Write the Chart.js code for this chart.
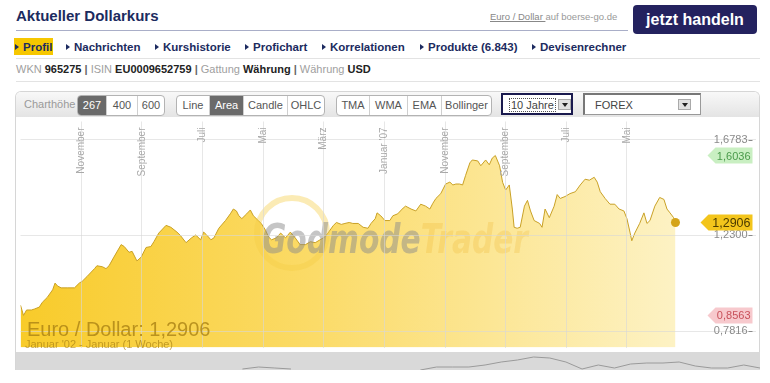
<!DOCTYPE html>
<html lang="de">
<head>
<meta charset="utf-8">
<title>Aktueller Dollarkurs</title>
<script src="https://cdn.jsdelivr.net/npm/chart.js@4.4.1/dist/chart.umd.min.js"></script>
<style>
body { margin:0; width:770px; height:383px; background:#fff; font-family:"Liberation Sans", Arial, sans-serif; position:relative; overflow:hidden; }
.abs { position:absolute; white-space:nowrap; }
#titel { left:16px; top:7px; font-size:15px; font-weight:bold; color:#1c2b60; }
#titelLinie { left:16px; top:30px; width:612px; height:1px; background:#a9aec8; }
#quelle { left:490px; top:11px; font-size:9.5px; color:#999; }
#quelle u { color:#888; }
#handeln { left:633px; top:5px; width:124px; height:29px; background:#24225f; border-radius:4px; color:#fff; font-size:16px; font-weight:bold; text-align:center; line-height:29px; }
#profilBox { left:14px; top:38px; width:39px; height:17px; background:#f6c700; }
.nav { top:39px; font-size:11.5px; font-weight:bold; color:#1c2b60; line-height:16px; }
.pfeil { display:inline-block; width:0; height:0; border-left:4px solid #1c2b60; border-top:3px solid transparent; border-bottom:3px solid transparent; margin-right:4px; vertical-align:1px; }
.linie { height:1px; background:#e3e3e3; left:16px; width:744px; }
#info { left:16px; top:63px; font-size:11px; color:#a0a0a0; }
#info b { color:#222; }
#box { left:15px; top:91px; width:745px; height:279px; border:1px solid #d6d6d6; border-bottom:none; border-radius:6px 6px 0 0; box-sizing:border-box; }
#leiste { left:16px; top:92px; width:743px; height:25px; background:linear-gradient(#f8f8f8, #e4e4e4); border-radius:5px 5px 0 0; }
#charthoehe { left:24px; top:98px; font-size:11px; color:#9a9a9a; }
.grp { position:absolute; top:95px; height:19px; display:flex; border:1px solid #b3b3b3; border-radius:4px; background:#fff; overflow:hidden; }
.grp span { display:block; text-align:center; line-height:19px; font-size:11px; color:#555; border-left:1px solid #cfcfcf; }
.grp span:first-child { border-left:none; }
.grp span.on { background:#6a6a6a; color:#fff; }
.sel { position:absolute; top:93px; height:22px; box-sizing:border-box; background:#fff; font-size:11px; color:#444; }
.knopf { position:absolute; top:4px; width:13px; height:11px; background:#e2e2e2; border:1px solid #aaa; box-sizing:border-box; }
.knopf::after { content:""; position:absolute; left:3px; top:3px; border-top:4px solid #222; border-left:3px solid transparent; border-right:3px solid transparent; }
#plot { left:16px; top:117px; width:744px; height:235px; }
#navi { left:16px; top:352px; width:744px; height:18px; background:#d9d9d9; }
</style>
</head>
<body>
<div class="abs" id="titel">Aktueller Dollarkurs</div>
<div class="abs" id="titelLinie"></div>
<div class="abs" id="quelle"><u>Euro / Dollar </u>auf boerse-go.de</div>
<div class="abs" id="handeln">jetzt handeln</div>

<div class="abs" id="profilBox"></div>
<div class="abs nav" style="left:15px"><span class="pfeil"></span>Profil</div>
<div class="abs nav" style="left:66px"><span class="pfeil"></span>Nachrichten</div>
<div class="abs nav" style="left:155px"><span class="pfeil"></span>Kurshistorie</div>
<div class="abs nav" style="left:245px"><span class="pfeil"></span>Profichart</div>
<div class="abs nav" style="left:322px"><span class="pfeil"></span>Korrelationen</div>
<div class="abs nav" style="left:420px"><span class="pfeil"></span>Produkte (6.843)</div>
<div class="abs nav" style="left:532px"><span class="pfeil"></span>Devisenrechner</div>
<div class="abs linie" style="top:58px"></div>
<div class="abs" id="info">WKN <b>965275</b> <b style="color:#666">|</b> ISIN <b>EU0009652759</b> <b style="color:#666">|</b> Gattung <b>Währung</b> <b style="color:#666">|</b> Währung <b>USD</b></div>
<div class="abs linie" style="top:81px"></div>

<div class="abs" id="box"></div>
<div class="abs" id="leiste"></div>
<div class="abs" id="charthoehe">Charthöhe</div>
<div class="grp" style="left:77px"><span class="on" style="width:28px">267</span><span style="width:30px">400</span><span style="width:26px">600</span></div>
<div class="grp" style="left:176px"><span style="width:32px">Line</span><span class="on" style="width:33px">Area</span><span style="width:43px">Candle</span><span style="width:36px">OHLC</span></div>
<div class="grp" style="left:336px"><span style="width:32px">TMA</span><span style="width:37px">WMA</span><span style="width:33px">EMA</span><span style="width:49px">Bollinger</span></div>
<div class="sel" style="left:501px; width:72px; border:2px solid #1a1a4e;">
  <span style="position:absolute; left:6px; top:3px; border:1px dotted #555; line-height:12px; padding:0 1px;">10 Jahre</span>
  <span class="knopf" style="left:55px"></span>
</div>
<div class="sel" style="left:583px; width:118px; border:1px solid #999; border-top:2px solid #777; border-left:2px solid #777;">
  <span style="position:absolute; left:10px; top:3px; line-height:14px;">FOREX</span>
  <span class="knopf" style="left:93px"></span>
</div>

<div class="abs" id="plot"><canvas id="kursChart"></canvas></div>
<div class="abs" id="navi"><canvas id="naviChart"></canvas></div>

<script>
// Euro / Dollar, Monate seit Januar 2002 (Wochenchart)
const monate = [
  0, 0.5, 1.0, 1.8, 2.3, 3.1, 3.6, 4.4, 5.3, 5.7, 6.1, 6.7, 7.7, 8.9, 9.7, 10.2, 11.0, 12.2, 12.6, 13.5,
  14.1, 14.6, 15.4, 16.6, 17.1, 17.9, 18.4, 19.2, 19.9, 20.7, 21.5, 22.0, 22.8, 24.0, 24.8, 25.8, 26.3, 27.3, 28.2, 28.9,
  29.7, 30.2, 30.7, 31.4, 31.9, 32.7, 33.8, 34.6, 35.1, 35.6, 36.0, 36.5, 37.3, 37.9, 38.4, 39.2, 39.7, 40.4, 40.9, 41.4,
  42.2, 42.9, 43.7, 44.5, 45.3, 46.1, 47.0, 47.8, 48.6, 49.4, 50.2, 50.7, 51.6, 52.1, 52.9, 53.5, 54.2, 54.8, 55.7, 56.5,
  57.3, 57.8, 58.5, 58.8, 59.4, 60.1, 60.9, 61.4, 62.2, 63.1, 63.5, 64.4, 65.2, 66.0, 66.8, 67.5, 68.0, 68.5, 69.3, 70.1,
  70.8, 71.3, 71.8, 72.4, 72.9, 73.4, 74.1, 74.5, 75.4, 75.9, 76.7, 77.3, 77.8, 78.3, 79.0, 79.5, 80.0, 80.6, 81.1, 81.4,
  81.9, 82.4, 83.1, 83.6, 84.1, 84.7, 85.6, 86.0, 86.5, 87.2, 88.0, 88.5, 89.0, 89.8, 90.6, 91.5, 92.3, 93.1, 93.8, 94.6,
  95.1, 95.6, 96.4, 97.2, 98.0, 98.7, 99.5, 100.0, 100.5, 100.8, 101.3, 102.1, 102.8, 103.3, 103.8, 104.6, 105.4, 106.1, 106.6, 107.1,
  107.7, 108.0
];
const kurs = [
  0.9042, 0.8563, 0.8817, 0.8817, 0.8862, 0.8952, 0.9176, 0.9401, 0.9761, 1.0075, 0.9940, 0.9851, 0.9851, 0.9851, 1.0075, 1.0165, 1.0390, 1.0749, 1.0884, 1.0839,
  1.0749, 1.0884, 1.1289, 1.1873, 1.1783, 1.1513, 1.1558, 1.1109, 1.1289, 1.1738, 1.1783, 1.2008, 1.2412, 1.2772, 1.2682, 1.2457, 1.2322, 1.1963, 1.2188, 1.2322,
  1.2098, 1.2457, 1.2322, 1.2098, 1.2188, 1.2637, 1.2997, 1.3311, 1.3536, 1.3446, 1.3221, 1.3087, 1.3311, 1.3491, 1.3221, 1.2997, 1.2862, 1.2547, 1.2233, 1.2098,
  1.2188, 1.2412, 1.2188, 1.2457, 1.2188, 1.1873, 1.1873, 1.2008, 1.1963, 1.2098, 1.2233, 1.2412, 1.2772, 1.2907, 1.2817, 1.2862, 1.2907, 1.2862, 1.2862, 1.2682,
  1.2637, 1.2862, 1.3087, 1.3356, 1.3221, 1.2997, 1.2997, 1.3221, 1.3311, 1.3581, 1.3671, 1.3536, 1.3446, 1.3761, 1.3671, 1.3536, 1.3806, 1.4030, 1.4255, 1.4704,
  1.4794, 1.4660, 1.4704, 1.4704, 1.4660, 1.5109, 1.5693, 1.5828, 1.5783, 1.5558, 1.5828, 1.5603, 1.5918, 1.6036, 1.5558, 1.4783, 1.4425, 1.4660, 1.3536, 1.2682,
  1.2637, 1.2682, 1.3671, 1.3940, 1.3446, 1.2997, 1.2862, 1.2682, 1.3536, 1.3131, 1.3671, 1.4210, 1.4030, 1.4120, 1.4255, 1.4345, 1.4660, 1.4929, 1.4883, 1.5019,
  1.4794, 1.4345, 1.4030, 1.3761, 1.3761, 1.3536, 1.3446, 1.3087, 1.2457, 1.2053, 1.2412, 1.2862, 1.3356, 1.2862, 1.2997, 1.3671, 1.4075, 1.3985, 1.3536, 1.3356,
  1.3131, 1.2906
];
const xGitterMonate = [10, 20, 30, 40, 50, 60, 70, 80, 90, 100];
const xGitterTexte = ['November', 'September', 'Juli', 'Mai', 'März', "Januar '07", 'November', 'September', 'Juli', 'Mai'];
const yGitterWerte = [0.7816, 1.2300, 1.6783];

const naviWerte = [
  null, null, null, null, null, null, null, null, null, null, null, null, null, null, 1, 3, 2, 1, null, null,
  null, null, null, null, null, 0, 3, 3, 3, 5, 8, 10, 13, 12, 8, 1, 5, 2, 6, 7,
  7, 8, 4, 2, 2, 5, 2
];

const fmt = v => v.toFixed(4).replace('.', ',');
const letzter = kurs[kurs.length - 1];
const hoch = Math.max(...kurs);
const tief = Math.min(...kurs);

function badge(ctx, area, y, text, bg, fg, links, groesse) {
  const r = area.right - 3, h = 16;
  ctx.fillStyle = bg;
  ctx.beginPath();
  ctx.moveTo(links, y);
  ctx.lineTo(links + 8, y - h / 2);
  ctx.lineTo(r, y - h / 2);
  ctx.lineTo(r, y + h / 2);
  ctx.lineTo(links + 8, y + h / 2);
  ctx.closePath();
  ctx.fill();
  ctx.fillStyle = fg;
  ctx.font = groesse + 'px "Liberation Sans", Arial';
  ctx.textAlign = 'right';
  ctx.textBaseline = 'middle';
  ctx.fillText(text, r - 2, y + 1);
}

const beschriftung = {
  id: 'beschriftung',
  afterDatasetsDraw(chart) {
    const { ctx } = chart;
    // Wasserzeichen
    ctx.save();
    ctx.strokeStyle = 'rgba(245, 205, 70, 0.4)';
    ctx.lineWidth = 6;
    ctx.beginPath();
    ctx.arc(276, 116, 35, 0, Math.PI * 2);
    ctx.stroke();
    ctx.font = 'italic bold 40px "Liberation Sans Narrow", "DejaVu Sans Condensed", sans-serif';
    ctx.textBaseline = 'alphabetic';
    ctx.textAlign = 'left';
    const w1 = ctx.measureText('Godmode').width;
    const w2 = ctx.measureText('Trader').width;
    const sx = 266 / (w1 + w2);
    ctx.translate(246, 136);
    ctx.scale(sx, 1);
    ctx.fillStyle = 'rgba(140, 140, 140, 0.5)';
    ctx.fillText('Godmode', 0, 0);
    ctx.fillStyle = 'rgba(235, 175, 30, 0.22)';
    ctx.fillText('Trader', w1, 0);
    ctx.restore();
  },
  afterDraw(chart) {
    const { ctx, chartArea: a, scales: { x, y } } = chart;
    ctx.save();
    // Monatsbeschriftung, senkrecht
    ctx.fillStyle = '#a8a8a8';
    ctx.font = '10px "Liberation Sans", Arial';
    ctx.textAlign = 'right';
    ctx.textBaseline = 'middle';
    xGitterMonate.forEach((m, i) => {
      ctx.save();
      ctx.translate(x.getPixelForValue(m), a.top + 6);
      ctx.rotate(-Math.PI / 2);
      ctx.fillText(xGitterTexte[i], 0, 0);
      ctx.restore();
    });
    // Kursachse
    ctx.font = '11px "Liberation Sans", Arial';
    yGitterWerte.forEach(v => {
      const py = y.getPixelForValue(v);
      ctx.fillStyle = '#8a8a8a';
      ctx.fillText(fmt(v), a.right - 8, py);
      ctx.fillRect(a.right - 7, Math.round(py), 4, 1);
    });
    badge(ctx, a, y.getPixelForValue(hoch), fmt(hoch), '#c9efc2', '#4a9a4a', a.right - 48, 11);
    badge(ctx, a, y.getPixelForValue(tief), fmt(tief), '#f7c9cd', '#c8505a', a.right - 48, 11);
    badge(ctx, a, y.getPixelForValue(letzter), fmt(letzter), '#f3c51c', '#4d3c00', a.right - 55, 12.5);
    // Legende unten links
    ctx.textAlign = 'left';
    ctx.textBaseline = 'alphabetic';
    ctx.fillStyle = 'rgba(170, 130, 20, 0.8)';
    ctx.font = '20px "Liberation Sans", Arial';
    ctx.fillText('Euro / Dollar: ' + fmt(letzter), 11, 219);
    ctx.font = '11px "Liberation Sans", Arial';
    ctx.fillStyle = 'rgba(170, 130, 20, 0.7)';
    ctx.fillText("Januar '02 - Januar (1 Woche)", 9, 231);
    ctx.restore();
  }
};

function endePixel(chart) {
  return chart.scales.x.getPixelForValue(monate[monate.length - 1]);
}

new Chart(document.getElementById('kursChart'), {
  type: 'line',
  data: {
    datasets: [{
      data: monate.map((m, i) => ({ x: m, y: kurs[i] })),
      borderColor: '#c9a126',
      borderWidth: 1,
      tension: 0,
      fill: 'start',
      backgroundColor: ctx => {
        const a = ctx.chart.chartArea;
        if (!a) return '#f8d040';
        const g = ctx.chart.ctx.createLinearGradient(a.left, 0, endePixel(ctx.chart), 0);
        g.addColorStop(0, '#f8cb2a');
        g.addColorStop(0.45, '#fbdb68');
        g.addColorStop(1, '#fdf2c4');
        return g;
      },
      pointRadius: monate.map((m, i) => i === monate.length - 1 ? 4.5 : 0),
      pointBackgroundColor: '#d4a41a',
      pointBorderWidth: 0
    }]
  },
  options: {
    responsive: true,
    maintainAspectRatio: false,
    animation: false,
    layout: { padding: 0 },
    plugins: { legend: { display: false }, tooltip: { enabled: false } },
    scales: {
      x: {
        type: 'linear', min: 0, max: 121.2,
        afterBuildTicks: s => { s.ticks = xGitterMonate.map(v => ({ value: v })); },
        ticks: { display: false },
        grid: { color: 'rgba(215, 215, 215, 0.6)', drawTicks: false, z: 1 },
        border: { display: false }
      },
      y: {
        position: 'right', min: 0.7064, max: 1.7626,
        afterBuildTicks: s => { s.ticks = yGitterWerte.map(v => ({ value: v })); },
        ticks: { display: false },
        grid: { color: 'rgba(215, 215, 215, 0.6)', drawTicks: false, z: 1 },
        border: { display: false }
      }
    }
  },
  plugins: [beschriftung]
});

new Chart(document.getElementById('naviChart'), {
  type: 'line',
  data: {
    labels: naviWerte.map((v, i) => i),
    datasets: [{
      data: naviWerte,
      borderColor: '#9a9a9a',
      borderWidth: 1,
      pointRadius: 0,
      spanGaps: false,
      tension: 0
    }]
  },
  options: {
    responsive: true,
    maintainAspectRatio: false,
    animation: false,
    layout: { padding: 0 },
    plugins: { legend: { display: false }, tooltip: { enabled: false } },
    scales: {
      x: { display: false },
      y: { display: false, min: 0, max: 18 }
    }
  }
});
</script>
</body>
</html>
